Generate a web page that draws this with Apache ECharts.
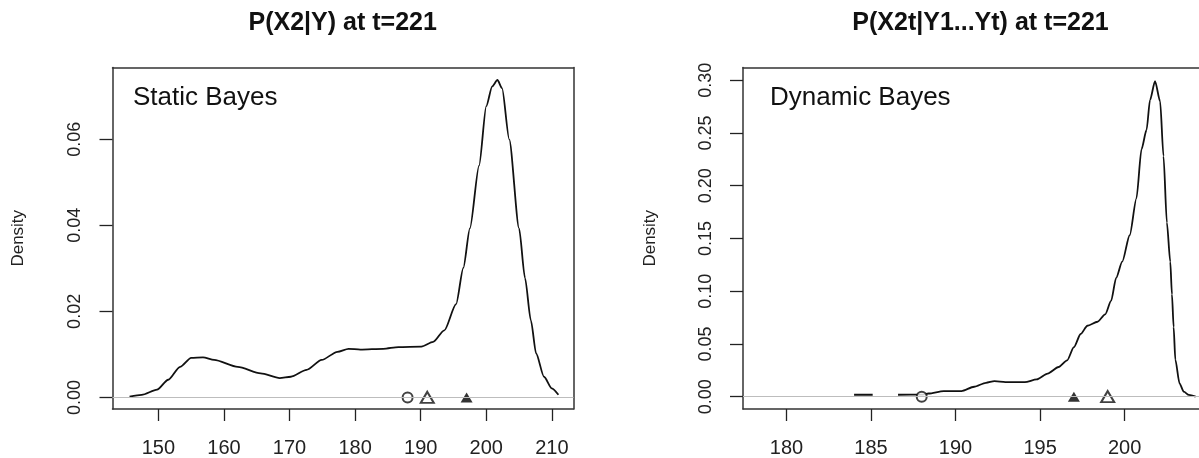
<!DOCTYPE html>
<html>
<head>
<meta charset="utf-8">
<script src="https://cdn.jsdelivr.net/npm/echarts@6/dist/echarts.min.js"></script>
<style>
html,body{margin:0;padding:0;background:#fff;}
#chart{width:1199px;height:458px;}
</style>
</head>
<body>
<div id="chart"></div>
<script>
// ---- data ----
const leftTitle = 'P(X2|Y) at t=221';
const rightTitle = 'P(X2t|Y1...Yt) at t=221';
const leftLabel = 'Static Bayes';
const rightLabel = 'Dynamic Bayes';
const yName = 'Density';

const leftXTicks = [150, 160, 170, 180, 190, 200, 210];
const leftYTicks = [0, 0.02, 0.04, 0.06];
const rightXTicks = [180, 185, 190, 195, 200];
const rightYTicks = [0, 0.05, 0.10, 0.15, 0.20, 0.25, 0.30];

const leftDensityX = [145.6, 147.45, 149.8, 151.5, 153.3, 155.0, 156.8, 158.5, 162.1, 165.6, 168.5, 170.2, 172.6, 174.9, 177.3, 179.0, 180.8, 184.3, 186.6, 190.1, 191.9, 193.6, 195.4, 196.5, 197.5, 198.9, 200.0, 200.9, 201.7, 202.4, 203.5, 205.0, 205.9, 206.8, 207.6, 208.8, 210.0, 211.0];
const leftDensityY = [0.0002, 0.0006, 0.0018, 0.0041, 0.0071, 0.0092, 0.0093, 0.0087, 0.0071, 0.0056, 0.0045, 0.0048, 0.0064, 0.0087, 0.0106, 0.0113, 0.0111, 0.0113, 0.0117, 0.0118, 0.0129, 0.0156, 0.0217, 0.0301, 0.0393, 0.0539, 0.0677, 0.0723, 0.0738, 0.0719, 0.0600, 0.0393, 0.0278, 0.0179, 0.0102, 0.0048, 0.0021, 0.0006];

// '-' marks where the curve is hidden under the zero line in the original
const rightDensityX = [184.0, 185.1, 185.8, 186.6, 188.0, 188.4, 189.3, 190.35, 191.1, 191.8, 192.3, 192.95, 194.1, 194.8, 195.45, 196.1, 196.6, 197.0, 197.4, 197.8, 198.4, 198.85, 199.2, 199.5, 199.86, 200.3, 200.7, 201.0, 201.3, 201.5, 201.8, 202.1, 202.3, 202.5, 202.7, 202.8, 202.9, 203.0, 203.25, 203.5, 203.8, 204.2];
const rightDensityY = [0.0018, 0.0018, '-', 0.0018, 0.0020, 0.0030, 0.0053, 0.0053, 0.0094, 0.0131, 0.0147, 0.0138, 0.0138, 0.0163, 0.0219, 0.0281, 0.0344, 0.0469, 0.0594, 0.0672, 0.0710, 0.0780, 0.0907, 0.1126, 0.1280, 0.1530, 0.1880, 0.2345, 0.2530, 0.2810, 0.2990, 0.2800, 0.2280, 0.1650, 0.1280, 0.0970, 0.0660, 0.0350, 0.0125, 0.0047, 0.0016, 0];

// observed markers (x positions on the zero line)
const leftCircle = [188];
const leftOpenTri = [191];
const leftFilledTri = [197];
const rightCircle = [188];
const rightOpenTri = [199];
const rightFilledTri = [197];

// ---- chart ----
const chart = echarts.init(document.getElementById('chart'), null, {renderer: 'canvas'});
const FONT = "'Liberation Sans', Arial, sans-serif";
const boxColor = '#333';
const zip = (xs, ys) => xs.map((x, i) => [x, ys[i]]);
const pts = xs => xs.map(x => [x, 0]);

function xAxisMain(grid, min, max, ticks) {
  return {
    type: 'value', gridIndex: grid, position: 'bottom', min: min, max: max,
    splitLine: {show: false},
    axisLine: {show: true, onZero: false, lineStyle: {color: boxColor, width: 1.5}},
    axisTick: {show: true, length: 12, customValues: ticks, lineStyle: {color: '#222', width: 1.3}},
    axisLabel: {show: true, customValues: ticks, margin: 29, fontSize: 20, fontFamily: FONT, color: '#222'}
  };
}
function xAxisTop(grid, min, max) {
  return {
    type: 'value', gridIndex: grid, position: 'top', min: min, max: max,
    splitLine: {show: false}, axisTick: {show: false}, axisLabel: {show: false},
    axisLine: {show: true, onZero: false, lineStyle: {color: boxColor, width: 1.5}}
  };
}
function yAxisMain(grid, min, max, ticks, gap) {
  return {
    type: 'value', gridIndex: grid, position: 'left', min: min, max: max,
    name: yName, nameLocation: 'middle', nameRotate: 90, nameGap: gap,
    nameTextStyle: {fontSize: 17, fontFamily: FONT, color: '#222'},
    splitLine: {show: false},
    axisLine: {show: true, onZero: false, lineStyle: {color: boxColor, width: 1.5}},
    axisTick: {show: true, length: 13, customValues: ticks, lineStyle: {color: '#222', width: 1.3}},
    axisLabel: {show: true, customValues: ticks, rotate: 90, margin: 28, fontSize: 18, fontFamily: FONT, color: '#222',
      formatter: v => v.toFixed(2)}
  };
}
function yAxisRight(grid, min, max) {
  return {
    type: 'value', gridIndex: grid, position: 'right', min: min, max: max,
    splitLine: {show: false}, axisTick: {show: false}, axisLabel: {show: false},
    axisLine: {show: true, onZero: false, lineStyle: {color: boxColor, width: 1.5}}
  };
}

function panelSeries(xi, yi, dens, circ, otri, ftri) {
  return [
    {type: 'line', xAxisIndex: xi, yAxisIndex: yi, data: dens, showSymbol: false, smooth: 0.25, smoothMonotone: 'x',
      connectNulls: false, lineStyle: {color: '#111', width: 1.8}, z: 2, silent: true},
    {type: 'line', xAxisIndex: xi, yAxisIndex: yi, data: [], z: 3, silent: true,
      markLine: {silent: true, symbol: ['none', 'none'], label: {show: false},
        lineStyle: {color: '#bdbdbd', width: 1, type: 'solid'}, data: [{yAxis: 0}]}},
    {type: 'scatter', xAxisIndex: xi, yAxisIndex: yi, data: pts(circ), symbol: 'emptyCircle', symbolSize: 10,
      itemStyle: {color: '#111', borderWidth: 1.3}, z: 4, silent: true},
    {type: 'scatter', xAxisIndex: xi, yAxisIndex: yi, data: pts(otri), symbol: 'emptyTriangle', symbolSize: [13, 11],
      itemStyle: {color: '#111', borderWidth: 1.3}, z: 4, silent: true},
    {type: 'scatter', xAxisIndex: xi, yAxisIndex: yi, data: pts(ftri), symbol: 'triangle', symbolSize: [12, 10],
      itemStyle: {color: '#000'}, z: 4, silent: true}
  ];
}

const option = {
  backgroundColor: '#fff',
  animation: false,
  grid: [
    {left: 112.5, top: 67.5, width: 461, height: 345},
    {left: 743, top: 67.5, right: 0, height: 345}
  ],
  xAxis: [
    xAxisMain(0, 143.0, 213.3, leftXTicks),
    xAxisTop(0, 143.0, 213.3),
    xAxisMain(1, 177.43, 204.4, rightXTicks),
    xAxisTop(1, 177.43, 204.4)
  ],
  yAxis: [
    yAxisMain(0, -0.0027, 0.0767, leftYTicks, 86),
    yAxisRight(0, -0.0027, 0.0767),
    yAxisMain(1, -0.0117, 0.312, rightYTicks, 84)
  ],
  series: [
    ...panelSeries(0, 0, zip(leftDensityX, leftDensityY), leftCircle, leftOpenTri, leftFilledTri),
    ...panelSeries(2, 2, zip(rightDensityX, rightDensityY), rightCircle, rightOpenTri, rightFilledTri)
  ],
  graphic: [
    {type: 'text', x: 342.7, y: 23, style: {text: leftTitle, textAlign: 'center', textVerticalAlign: 'middle',
      font: "bold 25px 'Liberation Sans', Arial, sans-serif", fill: '#111'}},
    {type: 'text', x: 980.5, y: 23, style: {text: rightTitle, textAlign: 'center', textVerticalAlign: 'middle',
      font: "bold 25px 'Liberation Sans', Arial, sans-serif", fill: '#111'}},
    {type: 'text', x: 133, y: 97.5, style: {text: leftLabel, textAlign: 'left', textVerticalAlign: 'middle',
      font: "26px 'Liberation Sans', Arial, sans-serif", fill: '#111'}},
    {type: 'text', x: 770, y: 97.5, style: {text: rightLabel, textAlign: 'left', textVerticalAlign: 'middle',
      font: "26px 'Liberation Sans', Arial, sans-serif", fill: '#111'}}
  ]
};
chart.setOption(option);
</script>
</body>
</html>
